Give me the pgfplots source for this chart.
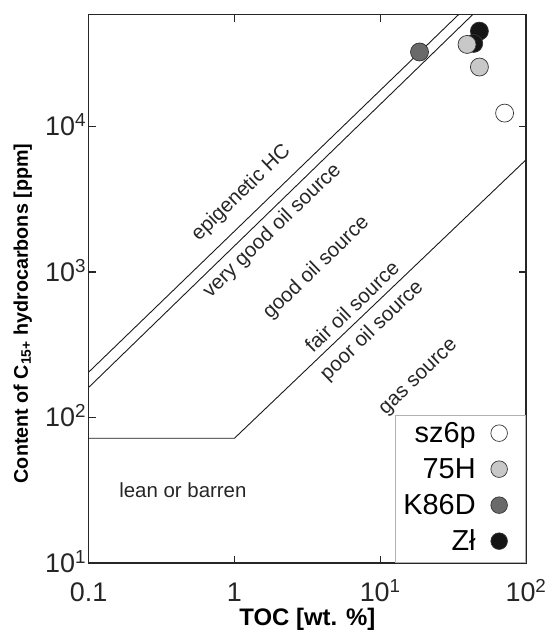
\documentclass[border=0pt]{standalone}
\usepackage{fontspec}
\setmainfont{Liberation Sans}
\usepackage{pgfplots}
\pgfplotsset{compat=1.18}
\definecolor{lg}{HTML}{C8C8C8}
\definecolor{dg}{HTML}{6A6A6A}
\definecolor{bk}{HTML}{151515}
\pgfplotsset{
  mymark/.style={only marks, mark=*, mark size=9bp,
    mark options={fill=#1, draw=black!80, line width=0.7bp},
    legend image code/.code={\path[draw=none, fill=none] (0bp,0bp) rectangle (28bp,1bp);
      \draw[##1, mark size=8.3bp] plot coordinates {(8.5bp,9.5bp)};}},
}
\begin{document}
\begin{tikzpicture}
\begin{axis}[
  xmode=log, ymode=log,
  scale only axis, width=437.3bp, height=548.3bp,
  xmin=0.1, xmax=100, ymin=10, ymax=5.86e4,
  axis line style={line width=1.5bp, black!85},
  xtick={0.1,1,10,100},
  xticklabels={0.1,1,10\textsuperscript{1},10\textsuperscript{2}},
  ytick={10,100,1000,10000},
  yticklabels={10\textsuperscript{1},10\textsuperscript{2},10\textsuperscript{3},10\textsuperscript{4}},
  minor tick style={draw=none},
  tick align=inside, major tick length=7bp,
  major tick style={line width=1.2bp, black!85},
  tick label style={font=\fontsize{27}{27}\selectfont, text=black!85},
  xticklabel style={anchor=base, yshift=-38.7bp},
  yticklabel style={anchor=base east, inner sep=0pt, xshift=-2.5bp, yshift=-9.3bp},
  xlabel={TOC [wt. \%]},
  xlabel style={font=\bfseries\fontsize{24}{24}\selectfont, at={(axis description cs:0.5,-0.1149)}, anchor=base},
  ylabel={Content of C\textsubscript{15+} hydrocarbons [ppm]},
  ylabel style={font=\bfseries\fontsize{19.8}{19.8}\selectfont, at={(axis description cs:-0.151,0.455)}, anchor=center},
  legend plot pos=right,
  reverse legend,
  legend style={at={(1,0)}, anchor=south east, draw=black!30, line width=0.7bp, fill=white,
    font=\fontsize{29}{29}\selectfont, inner xsep=7bp, inner ysep=5bp,
    row sep=7bp, column sep=14bp,
    cells={anchor=base east},
    nodes={inner sep=1bp, text height=21bp, text depth=6bp}},
  clip=true,
]
% boundary lines
\addplot[black!90, line width=0.9bp] coordinates {(0.1,205) (34.4,5.86e4)};
\addplot[black!90, line width=0.9bp] coordinates {(0.1,161) (43.0,5.86e4)};
\addplot[black!90, line width=0.9bp] coordinates {(0.1,72) (1,72) (100,5900)};
% labels
\begin{scope}[every node/.style={font=\fontsize{20.5}{20.5}\selectfont, text=black!85, rotate=44, anchor=center, inner sep=0pt}]
\node[yshift=2bp] at (axis cs:1.14,3400) {epigenetic HC};
\node at (axis cs:1.82,1918) {very good oil source};
\node at (axis cs:3.65,1066) {good oil source};
\node[yshift=5bp] at (axis cs:6.74,547) {fair oil source};
\node[yshift=-1bp] at (axis cs:8.72,398) {poor oil source};
\node at (axis cs:18.6,186) {gas source};
\end{scope}
\node[font=\fontsize{20.5}{20.5}\selectfont, text=black!85, anchor=center] at (axis cs:0.443,31.8) {lean or barren};
% data
\addplot[mymark=bk] coordinates {(47.9,45200) (43.8,37200)};
\addlegendentry{Zł}
\addplot[mymark=dg] coordinates {(18.6,32500)};
\addlegendentry{K86D}
\addplot[mymark=lg] coordinates {(39.4,36600) (47.9,25600)};
\addlegendentry{75H}
\addplot[mymark=white] coordinates {(71.3,12350)};
\addlegendentry{sz6p}
\end{axis}
\pgfresetboundingbox
\path (current axis.south west) ++(-88.7bp,-68bp) rectangle ++(548bp,631bp);
\end{tikzpicture}
\end{document}
